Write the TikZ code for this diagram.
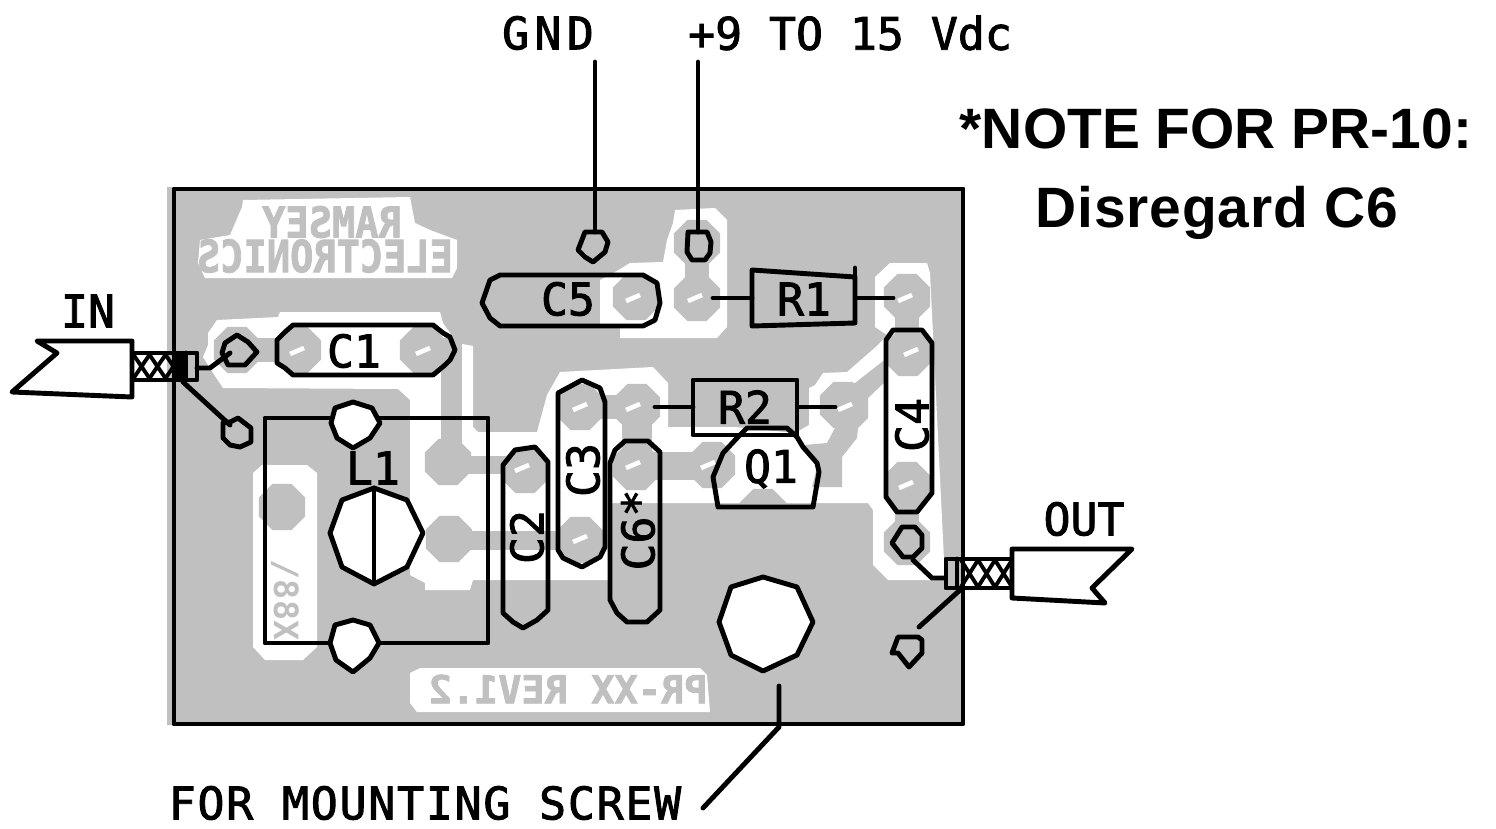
\documentclass[tikz,border=0pt]{standalone}
\usepackage{xcolor}
\usepackage{fontspec}
\setmainfont{Liberation Sans}
\setmonofont{DejaVu Sans Mono}
\usepackage{tikz}
\usetikzlibrary{shapes.geometric}
\definecolor{pcbgray}{HTML}{C0C0C0}
\tikzset{
  silk_line/.style={draw=black, line width=2.8pt, line join=round, line cap=round},
  silk_part/.style={silk_line, fill=white},
  white_area/.style={fill=white},
  gray_trace/.style={fill=pcbgray},
  gray_pad/.style={regular polygon, regular polygon sides=8, fill=pcbgray, inner sep=0pt, outer sep=0pt, minimum size=1.0cm},
  pad_slot/.style={draw=white, line width=2.6pt},
  label_text/.style={font=\ttfamily\fontsize{25.5}{28}\selectfont\addfontfeature{FakeBold=2}, inner sep=0pt},
  wide_text/.style={font=\ttfamily\fontsize{25.5}{28}\selectfont\addfontfeature{FakeBold=2,LetterSpace=12}, inner sep=0pt},
  screw_text/.style={font=\ttfamily\fontsize{25.5}{28}\selectfont\addfontfeature{FakeBold=2,LetterSpace=4}, inner sep=0pt},
  copper_text/.style={font=\ttfamily\bfseries\fontsize{22}{24}\selectfont\addfontfeature{FakeBold=2}, text=pcbgray, inner sep=0pt, xscale=-1},
  note_text/.style={font=\bfseries\fontsize{32.4}{36}\selectfont, inner sep=0pt}
}
\begin{document}
\begin{tikzpicture}[x=0.02cm, y=-0.02cm]
\useasboundingbox (0,0) rectangle (1496,828);
% board
\fill[pcbgray] (167,187) rectangle (965,725);
% cleared copper
\fill[white_area] (243,200) -- (410,197) -- (415,223) -- (430,230) -- (457,240) -- (457,268) -- (452,278) -- (205,278) -- (198,263) -- (200,240) -- (230,235) -- (242,207) -- cycle;
\fill[white_area] (208,333) -- (217,320) -- (278,317) -- (280,312) -- (440,312) -- (443,323) -- (457,343) -- (473,346) -- (473,427) -- (478,432) -- (537,432) -- (547,395) -- (560,372) -- (653,367) -- (668,383) -- (668,427) -- (735,427) -- (795,433) -- (809,425) -- (809,388) -- (815,385) -- (823,373) -- (847,372) -- (878,345) -- (887,335) -- (875,327) -- (875,277) -- (890,263) -- (927,263) -- (930,273) -- (944,560) -- (946,580) -- (888,580) -- (873,565) -- (873,510) -- (868,503) -- (610,503) -- (610,580) -- (473,580) -- (470,590) -- (425,590) -- (425,583) -- (410,575) -- (410,400) -- (398,389) -- (223,388) -- (213,373) -- (203,357) -- (208,345) -- cycle;
\fill[white_area] (620,338) -- (717,338) -- (727,327) -- (727,220) -- (715,208) -- (675,210) -- (673,223) -- (667,240) -- (663,262) -- (630,263) -- (610,275) -- (600,280) -- (600,327) -- (620,327) -- cycle;
\fill[white_area] (253,473) -- (262,465) -- (307,465) -- (317,473) -- (317,647) -- (303,660) -- (265,660) -- (253,647) -- cycle;
\fill[white_area] (410,673) -- (420,668) -- (700,668) -- (707,675) -- (710,712) -- (417,712) -- (410,703) -- cycle;
% traces
\foreach \xa/\ya/\xb/\yb in {237/338/298/362, 423/338/462/358, 441/345/462/460, 448/456/525/474, 449/531/580/550, 580/395/637/419, 622/407/652/467, 636/452/712/480, 685/243/709/298, 895/297/919/353, 895/485/919/542}
  \fill[gray_trace] (\xa,\ya) rectangle (\xb,\yb);
\fill[gray_trace] (820,402) -- (837,383) -- (855,383) -- (887,358) -- (887,380) -- (868,398) -- (868,418) -- (858,428) -- (857,438) -- (842,457) -- (842,487) -- (812,487) -- (818,463) -- (804,445) -- (827,443) -- (835,428) -- (820,413) -- cycle;
% pads
\foreach \pname/\px/\py in {cone_l/237/350, cone_a/298/350, cone_b/423/350, fiveb/636/297, ron_l/697/298, top_pos/697/243, ron_r/907/297, cfour_a/908/353, cfour_b/907/485, out_a/907/542, cthree_a/580/407, rtwo_l/637/407, rtwo_r/843/405, csix_a/636/467, qone_l/712/465, qone_b/763/512, cthree_b/580/540, ctwo_a/525/470, lone_a/448/462, lone_b/449/539, lone_c/282/507}
  \node[gray_pad] (pad_\pname) at (\px,\py) {};
\foreach \px/\py in {297/351, 423/351, 633/298, 695/298, 905/298, 580/407, 633/407, 845/407, 911/352, 906/485, 522/468, 580/539, 633/465, 708/465}
  \draw[pad_slot] (\px-7,\py+3) -- (\px+7,\py-3);
% copper text
\node[copper_text, yscale=1.1] (ramsey_text) at (332,222) {RAMSEY};
\node[copper_text, yscale=1.15] (electronics_text) at (325,256) {ELECTRONICS};
\node[copper_text] (rev_text) at (568,689) {PR-XX REV1.2};
\node[font=\ttfamily\bfseries\fontsize{19}{20}\selectfont, text=pcbgray, inner sep=0pt, rotate=-90] (value_text) at (285,600) {/88X};
% board outline
\draw[silk_line] (174,189) rectangle (963,724);
% inductor
\draw[silk_line] (265,418) rectangle (488,643);
\draw[silk_part] (353,402) -- (372,408) -- (380,423) -- (370,438) -- (353,448) -- (337,438) -- (331,423) -- (335,408) -- cycle;
\draw[silk_part] (353,620) -- (370,625) -- (379,643) -- (370,658) -- (353,672) -- (336,660) -- (330,643) -- (335,625) -- cycle;
\draw[silk_part] (374,488) -- (407,500) -- (423,533) -- (407,567) -- (374,584) -- (342,567) -- (330,533) -- (342,500) -- cycle;
\draw[silk_line] (374,488) -- (374,584);
% capacitors
\draw[silk_line] (293,325) -- (433,325) -- (443,333) -- (450,337) -- (455,350) -- (450,360) -- (445,365) -- (433,375) -- (293,375) -- (285,368) -- (277,363) -- (277,340) -- (285,332) -- cycle;
\draw[silk_line] (500,275) -- (643,275) -- (657,283) -- (660,303) -- (655,320) -- (643,326) -- (500,326) -- (490,318) -- (482,303) -- (490,280) -- cycle;
\draw[silk_line] (515,450) -- (535,447) -- (548,462) -- (548,610) -- (537,620) -- (523,628) -- (513,622) -- (503,613) -- (503,465) -- cycle;
\draw[silk_line] (582,380) -- (600,388) -- (605,402) -- (605,547) -- (600,557) -- (582,567) -- (563,558) -- (558,550) -- (558,393) -- cycle;
\draw[silk_line] (625,441) -- (648,441) -- (660,452) -- (660,610) -- (647,622) -- (627,622) -- (617,613) -- (610,600) -- (610,463) -- (615,450) -- cycle;
\draw[silk_line] (893,330) -- (922,330) -- (932,343) -- (932,493) -- (917,512) -- (897,512) -- (886,497) -- (886,340) -- cycle;
% resistors
\draw[silk_line] (752,270) -- (855,277) -- (855,323) -- (752,326) -- cycle;
\draw[silk_line] (855,268) -- (855,277);
\draw[silk_line] (713,298) -- (752,298);
\draw[silk_line] (857,298) -- (893,298);
\draw[silk_line] (693,380) rectangle (797,435);
\draw[silk_line] (655,407) -- (693,407);
\draw[silk_line] (798,407) -- (835,407);
% transistor
\draw[silk_line] (747,428) -- (787,428) -- (797,437) -- (803,447) -- (817,463) -- (819,472) -- (813,507) -- (718,507) -- (713,477) -- (723,453) -- (737,438) -- cycle;
% mounting hole
\draw[silk_part] (763,577) -- (797,587) -- (813,622) -- (797,655) -- (763,671) -- (731,655) -- (719,622) -- (731,587) -- cycle;
\draw[silk_line] (779,686) -- (779,727) -- (703,808);
% terminals
\draw[silk_line] (585,232) -- (602,232) -- (608,242) -- (605,252) -- (593,262) -- (585,257) -- (578,250) -- cycle;
\draw[silk_line] (688,232) -- (707,232) -- (711,242) -- (710,253) -- (705,260) -- (692,260) -- (687,252) -- cycle;
\draw[silk_line] (595,62) -- (595,232);
\draw[silk_line] (698,62) -- (698,232);
\draw[silk_line] (237,335) -- (248,342) -- (257,352) -- (245,365) -- (228,365) -- (222,353) -- (225,343) -- cycle;
\draw[silk_line] (238,418) -- (251,428) -- (251,442) -- (240,447) -- (230,445) -- (223,438) -- (223,423) -- (230,422) -- cycle;
\draw[silk_line] (902,527) -- (915,527) -- (922,535) -- (922,548) -- (913,557) -- (903,557) -- (892,543) -- cycle;
\draw[silk_line] (898,637) -- (918,637) -- (922,640) -- (922,653) -- (909,667) -- (898,653) -- (892,653) -- cycle;
% input cable
\draw[silk_part] (37,341) -- (132,341) -- (132,397) -- (12,392) -- (57,353) -- cycle;
\draw[silk_line] (132,353) rectangle (197,380);
\draw[silk_line] (186,353) -- (186,380);
\foreach \bx in {133,149,165}
  \draw[line width=2.2pt] (\bx,354) -- (\bx+17,379) (\bx,379) -- (\bx+17,354);
\fill (172,353) rectangle (185,380);
\draw[silk_line] (197,368) -- (210,368) -- (230,353);
\draw[silk_line] (183,382) -- (230,425);
% output cable
\draw[silk_part] (1012,549) -- (1132,549) -- (1092,588) -- (1105,603) -- (1012,598) -- cycle;
\draw[silk_line] (946,559) rectangle (1012,588);
\draw[silk_line] (957,559) -- (957,588);
\foreach \bx in {961,978,995}
  \draw[line width=2.2pt] (\bx,560) -- (\bx+17,587) (\bx,587) -- (\bx+17,560);
\draw[silk_line] (913,560) -- (932,578) -- (945,578);
\draw[silk_line] (960,590) -- (919,627);
% part labels
\node[label_text] (cone_label) at (354,351) {C1};
\node[label_text] (cfive_label) at (568,299) {C5};
\node[label_text] (rone_label) at (804,299) {R1};
\node[label_text] (rtwo_label) at (745,407) {R2};
\node[label_text] (qone_label) at (771,469) {Q1};
\node[label_text] (lone_label) at (373,468) {L1};
\node[label_text, rotate=90] (ctwo_label) at (527,537) {C2};
\node[label_text, rotate=90] (cthree_label) at (583,470) {C3};
\node[label_text, rotate=90] (cfour_label) at (912,425) {C4};
\node[label_text, rotate=90] (csix_label) at (638,530) {C6*};
% outer labels
\node[wide_text] (gnd_label) at (548,33) {GND};
\node[label_text] (supply_label) at (850,33) {+9 TO 15 Vdc};
\node[label_text] (in_label) at (88,311) {IN};
\node[label_text] (out_label) at (1084,519) {OUT};
\node[screw_text] (screw_label) at (425,803) {FOR MOUNTING SCREW};
\node[note_text] (note_line_a) at (1216,129) {*NOTE FOR PR-10:};
\node[note_text, font=\bfseries\fontsize{32.4}{36}\selectfont\addfontfeature{LetterSpace=1.5}] (note_line_b) at (1217,213) {Disregard C6};
\end{tikzpicture}
\end{document}
